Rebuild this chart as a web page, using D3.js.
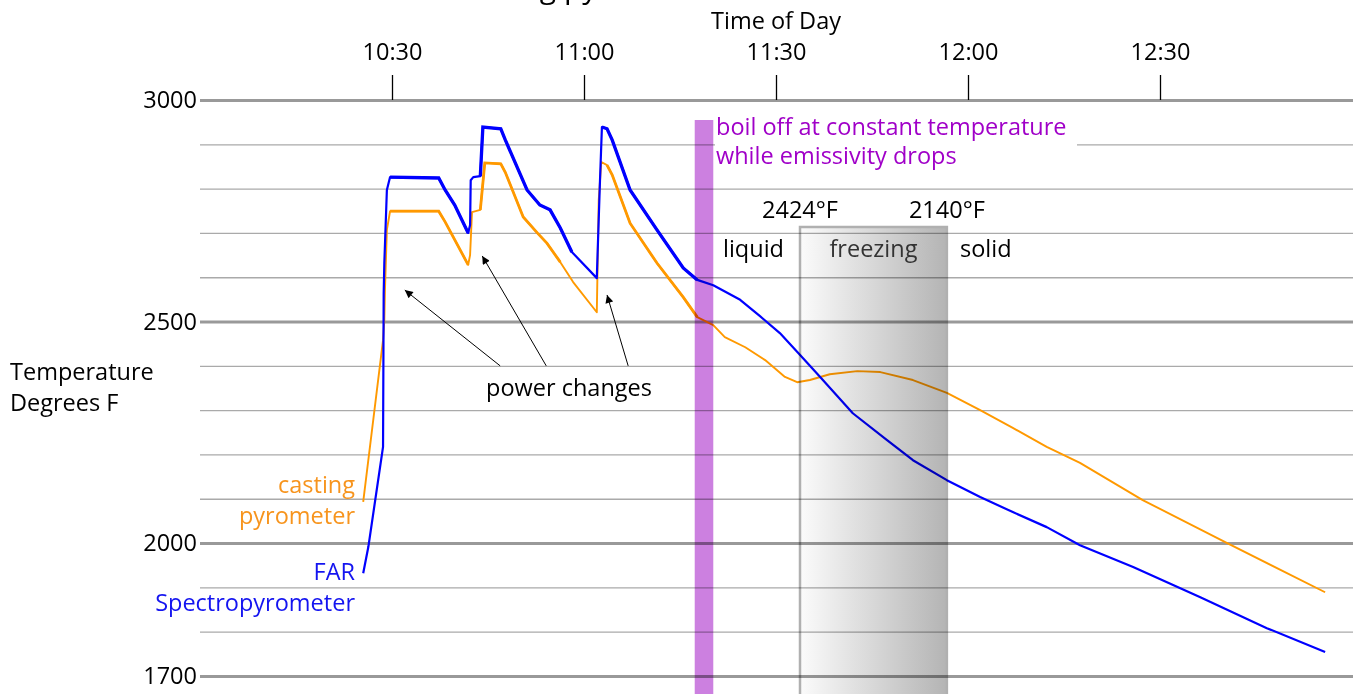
<html>
<head>
<meta charset="utf-8">
<script src="https://d3js.org/d3.v7.min.js"></script>
<style>
body {
	margin: 0;
	background: white;
	font-family: "Open Sans", sans-serif;
}
text { font-family: "Open Sans", sans-serif; }
</style>
</head>
<body>
<svg id="chart" width="1353" height="694"></svg>
<script>

// minutes after 10:00 and temperature (deg F)
var farTime = [25.5, 26.3, 28.6, 28.7, 28.8, 29.2, 29.7, 37.3, 38.3, 39.8, 41.9, 42.2, 42.3, 42.7, 43.8, 44.2, 47.0, 47.7, 51.1, 53.1, 54.7, 56.3, 58.1, 62.0, 62.5, 62.8, 63.6, 64.4, 67.2, 71.4, 75.5, 77.7, 80.2, 84.4, 87.5, 90.6, 93.8, 96.9, 102.0, 107.3, 111.4, 116.7, 121.9, 127.0, 132.3, 137.5, 145.8, 156.3, 166.7, 175.8]
var farTemp = [1932, 1991, 2217, 2564, 2632, 2797, 2826, 2824, 2797, 2763, 2700, 2718, 2819, 2826, 2828, 2939, 2935, 2910, 2797, 2763, 2752, 2711, 2657, 2598, 2819, 2939, 2935, 2910, 2797, 2707, 2621, 2594, 2582, 2549, 2512, 2474, 2424, 2375, 2293, 2233, 2187, 2142, 2104, 2070, 2036, 1995, 1946, 1878, 1808, 1754]

var castTime = [25.5, 28.6, 28.8, 28.9, 29.2, 29.7, 37.3, 38.3, 41.9, 42.2, 42.5, 43.8, 44.5, 47.0, 47.7, 50.5, 52.7, 54.2, 56.3, 58.3, 62.0, 62.3, 62.7, 63.6, 64.4, 67.2, 71.4, 75.5, 77.7, 80.2, 82.0, 85.2, 88.3, 91.4, 93.3, 95.3, 98.4, 102.7, 106.3, 111.4, 116.7, 121.9, 127.0, 132.3, 137.5, 147.3, 160.5, 175.8]
var castTemp = [2093, 2458, 2503, 2571, 2707, 2749, 2749, 2725, 2628, 2650, 2747, 2752, 2858, 2856, 2837, 2736, 2700, 2677, 2634, 2589, 2521, 2774, 2860, 2853, 2831, 2722, 2632, 2555, 2510, 2492, 2465, 2442, 2413, 2375, 2363, 2368, 2381, 2388, 2386, 2368, 2339, 2300, 2260, 2217, 2181, 2097, 2000, 1889]

// stretches where the signal is noisy (start, end minutes)
var noisyRanges = [[29.7, 41.9], [43.8, 58.1], [62.8, 77.7]]

var tickLabels = ["10:30", "11:00", "11:30", "12:00", "12:30"]
var majorTemps = [1700, 2000, 2500, 3000]

var boilTime = [77.3, 80.2]
var freezeTime = [93.75, 116.7]
var freezeLabels = ["2424°F", "2140°F"]
var arrowHeads = [[32.0, 2571], [44.1, 2648], [63.6, 2560]]
var arrowTails = [[46.9, 2400], [54.1, 2400], [66.9, 2400]]

var fs = 23.5

var svg = d3.select("#chart")

var x = d3.scaleLinear().domain([0, 180]).range([200, 1352])
var y = d3.scaleLinear().domain([1700, 3000]).range([676, 100])

var toMin = s => (+s.split(":")[0] - 10) * 60 + +s.split(":")[1]

// title, mostly cut off at the top edge
svg.append("text")
	.attr("x", 712).attr("y", -2)
	.attr("text-anchor", "end")
	.attr("font-size", 30)
	.text("Cast iron temperature measured with FAR and casting pyrometer")

// grid
var grid = svg.append("g")
	.attr("transform", `translate(200,0)`)
	.call(d3.axisLeft(y)
		.tickValues(d3.range(1700, 3001, 100))
		.tickSize(-1153)
		.tickFormat(""))
grid.select(".domain").remove()
grid.selectAll(".tick line")
	.attr("stroke", d => majorTemps.includes(d) ? "#999" : "#aaa")
	.attr("stroke-width", d => majorTemps.includes(d) ? 3 : 1.3)

var yAxis = svg.append("g")
	.attr("transform", `translate(200,0)`)
	.call(d3.axisLeft(y).tickValues(majorTemps).tickSize(0).tickPadding(3)
		.tickFormat(d3.format("d")))
yAxis.select(".domain").remove()
yAxis.selectAll("text").attr("font-size", fs).attr("fill", "black")
	.style("font-family", "Open Sans")

var xAxis = svg.append("g")
	.attr("transform", `translate(0,100)`)
	.call(d3.axisTop(x)
		.tickValues(tickLabels.map(toMin))
		.tickSize(25).tickPadding(15)
		.tickFormat((d, i) => tickLabels[i]))
xAxis.select(".domain").remove()
xAxis.selectAll("line").attr("stroke", "black").attr("stroke-width", 1.3)
xAxis.selectAll("text").attr("font-size", fs).attr("fill", "black")
	.style("font-family", "Open Sans")

svg.append("text")
	.attr("x", 776).attr("y", 29)
	.attr("text-anchor", "middle")
	.attr("font-size", fs)
	.text("Time of Day")

// white box behind the boil-off note
svg.append("rect")
	.attr("x", 715).attr("y", 116)
	.attr("width", 362).attr("height", 56)
	.attr("fill", "white")

// data lines
var line = d3.line()
	.x(d => x(d[0]))
	.y(d => y(d[1]))

var far = farTime.map((t, i) => [t, farTemp[i]])
var cast = castTime.map((t, i) => [t, castTemp[i]])

var series = [
	{data: cast, color: "#ff9900", w: 1.9, nw: 2.8},
	{data: far, color: "#0000ff", w: 2.2, nw: 3.3}
]

series.forEach(function(s) {
	svg.append("path")
		.attr("d", line(s.data))
		.attr("fill", "none")
		.attr("stroke", s.color)
		.attr("stroke-width", s.w)
		.attr("stroke-linejoin", "round")
	noisyRanges.forEach(function(r) {
		svg.append("path")
			.attr("d", line(s.data.filter(d => d[0] >= r[0] && d[0] <= r[1])))
			.attr("fill", "none")
			.attr("stroke", s.color)
			.attr("stroke-width", s.nw)
	})
})

// boil-off bar
svg.append("rect")
	.attr("x", x(boilTime[0]))
	.attr("y", 120)
	.attr("width", x(boilTime[1]) - x(boilTime[0]))
	.attr("height", 600)
	.attr("fill", "#cc80e0")
	.style("mix-blend-mode", "multiply")

// freezing band
var grad = svg.append("defs").append("linearGradient")
	.attr("id", "freeze")
grad.append("stop").attr("offset", "0%").attr("stop-color", "#fbfbfb")
grad.append("stop").attr("offset", "100%").attr("stop-color", "#b4b4b4")

svg.append("rect")
	.attr("x", x(freezeTime[0]))
	.attr("y", 227)
	.attr("width", x(freezeTime[1]) - x(freezeTime[0]))
	.attr("height", 500)
	.attr("fill", "url(#freeze)")
	.attr("stroke", "#b0b0b0")
	.attr("stroke-width", 2.5)
	.style("mix-blend-mode", "multiply")

// annotations
var note = (tx, ty, str, color, anchor) => svg.append("text")
	.attr("x", tx).attr("y", ty)
	.attr("text-anchor", anchor || "start")
	.attr("font-size", fs)
	.attr("fill", color || "black")
	.text(str)

note(716, 135, "boil off at constant temperature", "#a000c8")
note(716, 164, "while emissivity drops", "#a000c8")

freezeLabels.forEach((l, i) => note(x(freezeTime[i]), 218, l, "black", "middle"))
note(723, 257, "liquid")
note((x(freezeTime[0]) + x(freezeTime[1])) / 2, 257, "freezing", "#333", "middle")
note(960, 257, "solid")

note(10, 380, "Temperature")
note(10, 411, "Degrees F")
note(355, 493, "casting", "#f7941d", "end")
note(355, 524, "pyrometer", "#f7941d", "end")
note(355, 580, "FAR", "#1414f0", "end")
note(355, 611, "Spectropyrometer", "#1414f0", "end")

note(569, 396, "power changes", "black", "middle")

svg.select("defs").append("marker")
	.attr("id", "arrow")
	.attr("viewBox", "0 0 10 10")
	.attr("refX", 10).attr("refY", 5)
	.attr("markerWidth", 11).attr("markerHeight", 8)
	.attr("markerUnits", "userSpaceOnUse")
	.attr("orient", "auto")
	.append("path")
	.attr("d", "M0,0L10,5L0,10z")
	.attr("fill", "black")

arrowTails.forEach(function(t, i) {
	svg.append("line")
		.attr("x1", x(t[0])).attr("y1", y(t[1]))
		.attr("x2", x(arrowHeads[i][0])).attr("y2", y(arrowHeads[i][1]))
		.attr("stroke", "black")
		.attr("stroke-width", 1)
		.attr("marker-end", "url(#arrow)")
})

</script>
</body>
</html>
